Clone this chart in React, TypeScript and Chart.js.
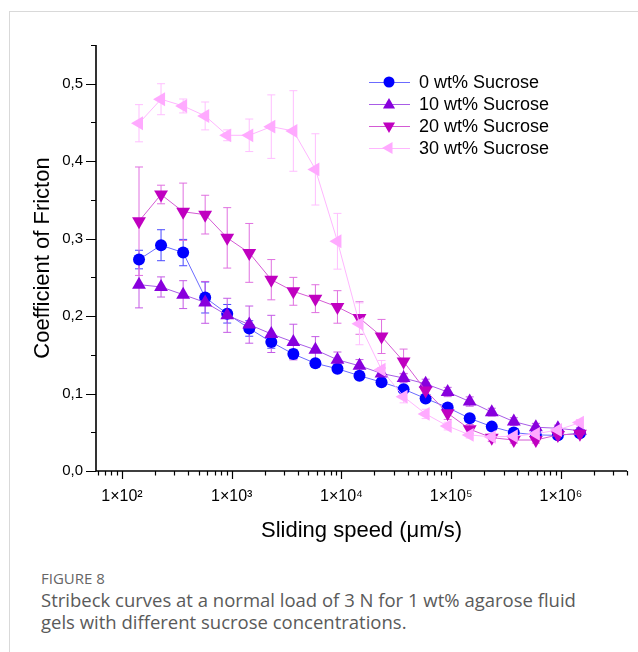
import React, { useEffect, useRef } from 'react';
import { Chart, registerables } from 'chart.js';

Chart.register(...registerables);

// Sliding speed (µm/s)
const SPEED = [143, 227, 361, 573, 910, 1445, 2295, 3645, 5790, 9195, 14600, 23190, 36830, 58490, 92890, 147500, 234300, 372100, 590900, 938400, 1490000];

// Coefficient of friction
const COF_0 = [0.273, 0.2915, 0.282, 0.224, 0.203, 0.184, 0.1665, 0.151, 0.139, 0.132, 0.123, 0.1147, 0.1057, 0.0936, 0.082, 0.068, 0.0573, 0.0496, 0.0466, 0.046, 0.0488];
const COF_10 = [0.2406, 0.2376, 0.2277, 0.2177, 0.201, 0.189, 0.177, 0.1665, 0.1565, 0.1436, 0.1358, 0.126, 0.12, 0.1125, 0.102, 0.0897, 0.076, 0.0638, 0.0565, 0.0552, 0.052];
const COF_20 = [0.3225, 0.357, 0.3347, 0.331, 0.301, 0.2816, 0.247, 0.232, 0.2225, 0.2118, 0.1975, 0.1737, 0.1414, 0.104, 0.0746, 0.054, 0.043, 0.04, 0.04, 0.0466, 0.048];
const COF_30 = [0.449, 0.48, 0.4713, 0.4584, 0.4334, 0.4334, 0.4446, 0.439, 0.3894, 0.2966, 0.19, 0.1307, 0.096, 0.0737, 0.058, 0.0466, 0.044, 0.045, 0.048, 0.053, 0.0625];

// Error bars (±)
const ERR_0 = [0.012, 0.02, 0.017, 0.02, 0.012, 0.01, 0.008, 0.006, 0.005, 0.005, 0.005, 0.004, 0.004, 0.004, 0.004, 0.004, 0.003, 0.003, 0.003, 0.003, 0.003];
const ERR_10 = [0.03, 0.013, 0.018, 0.027, 0.022, 0.024, 0.024, 0.023, 0.017, 0.01, 0.008, 0.007, 0.006, 0.006, 0.006, 0.006, 0.005, 0.005, 0.005, 0.004, 0.004];
const ERR_20 = [0.07, 0.012, 0.037, 0.025, 0.039, 0.038, 0.026, 0.018, 0.018, 0.021, 0.021, 0.022, 0.016, 0.01, 0.008, 0.006, 0.005, 0.004, 0.004, 0.004, 0.004];
const ERR_30 = [0.024, 0.02, 0.009, 0.018, 0.007, 0.021, 0.041, 0.052, 0.046, 0.036, 0.027, 0.012, 0.008, 0.006, 0.005, 0.004, 0.004, 0.004, 0.004, 0.004, 0.004];

const SERIES_LABELS = ['0 wt% Sucrose', '10 wt% Sucrose', '20 wt% Sucrose', '30 wt% Sucrose'];

const X_TICKS = [1e2, 1e3, 1e4, 1e5, 1e6];
const X_TICK_LABELS = ['1×10²', '1×10³', '1×10⁴', '1×10⁵', '1×10⁶'];
const Y_TICKS = [0, 0.1, 0.2, 0.3, 0.4, 0.5];
const Y_TICK_LABELS = ['0,0', '0,1', '0,2', '0,3', '0,4', '0,5'];
const Y_MINOR = [0.05, 0.15, 0.25, 0.35, 0.45, 0.55];

const FONT = "'Liberation Sans', Arial, sans-serif";

const MARKER = [
  { style: 'circle', rot: 0, r: 6, fill: '#0000ff', line: '#6b6bff', err: '#4a4aff' },
  { style: 'triangle', rot: 0, r: 8, fill: '#8800dd', line: '#a85ce6', err: '#c45ae6' },
  { style: 'triangle', rot: 180, r: 8, fill: '#c000c0', line: '#d45ad4', err: '#e070e0' },
  { style: 'triangle', rot: 270, r: 8, fill: '#ffaaff', line: '#ffb6ff', err: '#ffbfff' },
];

function drawMarker(ctx: CanvasRenderingContext2D, m: any, x: number, y: number) {
  ctx.save();
  ctx.fillStyle = m.fill;
  ctx.beginPath();
  if (m.style === 'circle') {
    ctx.arc(x, y, m.r, 0, Math.PI * 2);
  } else {
    let rad = (m.rot * Math.PI) / 180;
    for (let k = 0; k < 3; k++) {
      const px = x + Math.sin(rad) * m.r;
      const py = y - Math.cos(rad) * m.r;
      if (k === 0) ctx.moveTo(px, py);
      else ctx.lineTo(px, py);
      rad += (2 * Math.PI) / 3;
    }
    ctx.closePath();
  }
  ctx.fill();
  ctx.restore();
}

export default function App() {
  const ref = useRef<HTMLCanvasElement>(null);

  useEffect(() => {
    const values = [COF_0, COF_10, COF_20, COF_30];
    const errs = [ERR_0, ERR_10, ERR_20, ERR_30];

    const errorBars = {
      id: 'errorBars',
      beforeDatasetsDraw(chart: any) {
        const ctx = chart.ctx;
        const ys = chart.scales.y;
        ctx.save();
        ctx.lineWidth = 1;
        values.forEach((vals, i) => {
          const meta = chart.getDatasetMeta(i);
          ctx.strokeStyle = MARKER[i].err;
          vals.forEach((v, j) => {
            const e = errs[i][j];
            const x = meta.data[j].x;
            const yt = ys.getPixelForValue(v + e);
            const yb = ys.getPixelForValue(v - e);
            ctx.beginPath();
            ctx.moveTo(x, yt);
            ctx.lineTo(x, yb);
            ctx.moveTo(x - 4, yt);
            ctx.lineTo(x + 4, yt);
            ctx.moveTo(x - 4, yb);
            ctx.lineTo(x + 4, yb);
            ctx.stroke();
          });
        });
        ctx.restore();
      },
    };

    const axes = {
      id: 'axesDraw',
      afterDraw(chart: any) {
        const ctx = chart.ctx;
        const { left, right, top, bottom } = chart.chartArea;
        const xs = chart.scales.x;
        const ys = chart.scales.y;
        ctx.save();
        ctx.strokeStyle = '#000';
        ctx.lineWidth = 1.6;
        ctx.beginPath();
        ctx.moveTo(left, top);
        ctx.lineTo(left, bottom);
        ctx.lineTo(right, bottom);
        ctx.stroke();
        ctx.lineWidth = 1.2;
        ctx.beginPath();
        Y_TICKS.forEach((v) => {
          const y = Math.round(ys.getPixelForValue(v)) + 0.5;
          ctx.moveTo(left - 10, y);
          ctx.lineTo(left, y);
        });
        Y_MINOR.forEach((v) => {
          const y = Math.round(ys.getPixelForValue(v)) + 0.5;
          ctx.moveTo(left - 5, y);
          ctx.lineTo(left, y);
        });
        const xmin = xs.min;
        const xmax = xs.max;
        for (let d = 1; d <= 6; d++) {
          for (let k = 1; k <= 9; k++) {
            const v = k * Math.pow(10, d);
            if (v < xmin || v > xmax * 1.0001) continue;
            const x = Math.round(xs.getPixelForValue(v)) + 0.5;
            ctx.moveTo(x, bottom);
            ctx.lineTo(x, bottom + (k === 1 ? 8 : 4.5));
          }
        }
        ctx.stroke();
        ctx.restore();
      },
    };

    const legendPlugin = {
      id: 'customLegend',
      afterDraw(chart: any) {
        const ctx = chart.ctx;
        ctx.save();
        ctx.font = `18px ${FONT}`;
        ctx.textBaseline = 'middle';
        ctx.fillStyle = '#000';
        SERIES_LABELS.forEach((label, i) => {
          const y = 82 + i * 22;
          ctx.strokeStyle = MARKER[i].line;
          ctx.lineWidth = 1;
          ctx.beginPath();
          ctx.moveTo(369, y + 0.5);
          ctx.lineTo(410, y + 0.5);
          ctx.stroke();
          const lm = { ...MARKER[i], r: MARKER[i].style === 'circle' ? 5.5 : 7 };
          drawMarker(ctx, lm, 389, y + (lm.style === 'triangle' && lm.rot === 0 ? 1 : 0));
          ctx.fillText(label, 419, y + 1);
        });
        ctx.restore();
      },
    };

    const datasets = values.map((vals, i) => ({
      label: SERIES_LABELS[i],
      data: SPEED.map((x, j) => ({ x, y: vals[j] })),
      borderColor: MARKER[i].line,
      borderWidth: 1,
      pointStyle: MARKER[i].style,
      rotation: MARKER[i].rot,
      pointRotation: MARKER[i].rot,
      pointRadius: MARKER[i].r,
      pointBackgroundColor: MARKER[i].fill,
      pointBorderColor: MARKER[i].fill,
      pointBorderWidth: 0,
      tension: 0,
      fill: false,
      order: 4 - i,
    }));

    const chart = new Chart(ref.current as HTMLCanvasElement, {
      type: 'line',
      data: { datasets: datasets as any },
      options: {
        animation: false,
        responsive: false,
        events: [],
        layout: { padding: { left: 0, right: 11, top: 45, bottom: 0 } },
        plugins: { legend: { display: false }, tooltip: { enabled: false } },
        scales: {
          x: {
            type: 'logarithmic',
            min: 58,
            max: 4e6,
            grid: { display: false, drawTicks: false },
            border: { display: false },
            afterFit: (s: any) => { s.height = 89; },
            afterBuildTicks: (s: any) => { s.ticks = X_TICKS.map((v) => ({ value: v })); },
            ticks: {
              autoSkip: false,
              maxRotation: 0,
              padding: 16,
              color: '#000',
              font: { family: FONT, size: 16 },
              callback: (v: any) => {
                const idx = X_TICKS.indexOf(Number(v));
                return idx >= 0 ? X_TICK_LABELS[idx] : '';
              },
            },
            title: {
              display: true,
              text: 'Sliding speed (μm/s)',
              color: '#000',
              font: { family: FONT, size: 22 },
              padding: { top: 0, bottom: 16 },
            },
          },
          y: {
            type: 'linear',
            min: 0,
            max: 0.55,
            grid: { display: false, drawTicks: false },
            border: { display: false },
            afterFit: (s: any) => { s.width = 96; },
            afterBuildTicks: (s: any) => { s.ticks = Y_TICKS.map((v) => ({ value: v })); },
            ticks: {
              autoSkip: false,
              padding: 13,
              color: '#000',
              font: { family: FONT, size: 15 },
              callback: (v: any) => {
                const idx = Y_TICKS.findIndex((t) => Math.abs(t - Number(v)) < 1e-9);
                return idx >= 0 ? Y_TICK_LABELS[idx] : '';
              },
            },
            title: {
              display: true,
              text: 'Coefficient of Fricton',
              color: '#000',
              font: { family: FONT, size: 22 },
              padding: { top: 30, bottom: 0 },
            },
          },
        },
      },
      plugins: [errorBars, axes, legendPlugin],
    });
    return () => chart.destroy();
  }, []);

  return (
    <div>
      <div
        style={{
          position: 'absolute',
          left: 9,
          top: 11,
          width: 629,
          height: 641,
          borderLeft: '1px solid #d9d9d9',
          borderTop: '1px solid #d9d9d9',
          boxSizing: 'border-box',
        }}
      />
      <canvas
        ref={ref}
        width={638}
        height={560}
        style={{ position: 'absolute', left: 0, top: 0, width: 638, height: 560 }}
      />
      <div
        style={{
          position: 'absolute',
          left: 41,
          top: 569,
          fontFamily: "'Open Sans', sans-serif",
          fontSize: 15,
          lineHeight: '18px',
          color: '#666',
          whiteSpace: 'nowrap',
        }}
      >
        FIGURE 8
      </div>
      <div
        style={{
          position: 'absolute',
          left: 41,
          top: 589,
          fontFamily: "'Open Sans', sans-serif",
          fontSize: 18.5,
          lineHeight: '22px',
          color: '#5a5a5a',
          whiteSpace: 'nowrap',
        }}
      >
        Stribeck curves at a normal load of 3 N for 1 wt% agarose fluid
        <br />
        gels with different sucrose concentrations.
      </div>
    </div>
  );
}
